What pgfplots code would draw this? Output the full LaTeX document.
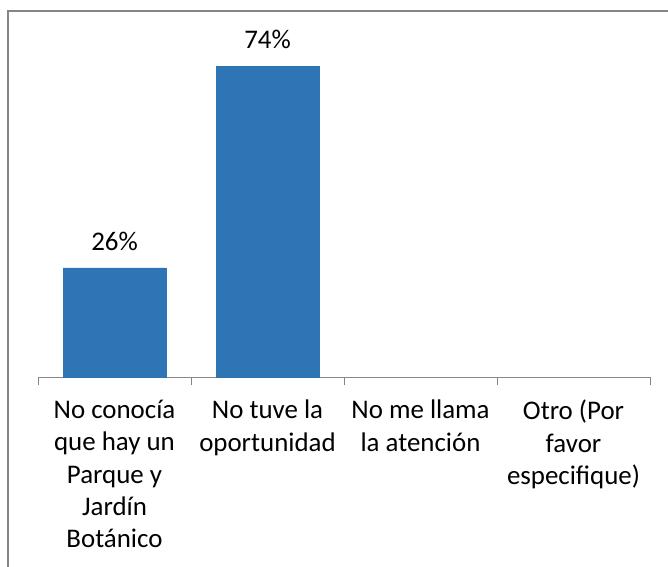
\documentclass[border=0pt]{standalone}
\usepackage{pgfplots}
\pgfplotsset{compat=1.18}
\usepackage{fontspec}
\setmainfont{Carlito}
\definecolor{barblue}{HTML}{2E75B6}
\definecolor{axgray}{HTML}{868686}
\begin{document}
\begin{tikzpicture}[x=1bp,y=1bp]
\useasboundingbox (0,0) rectangle (668,-567);
\draw[axgray, line width=1.2bp] (8,-600) -- (8,-11) -- (700,-11);
\begin{axis}[
  at={(38bp,-377bp)}, anchor=south west,
  scale only axis,
  width=612bp, height=336bp,
  xmin=-0.5, xmax=3.5, ymin=0, ymax=80,
  axis x line*=bottom,
  hide y axis,
  axis line style={axgray, line width=1bp},
  xtick={0,1,2,3},
  major tick length=0pt,
  xticklabels={{No conocía\\que hay un\\Parque y\\Jardín\\Botánico},{No tuve la\\oportunidad},{No me llama\\la atención},{Otro (Por\\favor\\especifique)}},
  x tick label style={align=center, font=\fontsize{27}{32.5}\selectfont, text=black, yshift=-19.5bp},
  extra x ticks={-0.5,0.5,1.5,2.5,3.5},
  extra x tick labels={},
  extra x tick style={major tick length=8bp, tick align=outside, tick style={axgray, line width=1bp}},
  ybar, bar width=103bp,
  clip=false,
  /pgf/number format/assume math mode=true,
  nodes near coords={\pgfmathprintnumber{\pgfplotspointmeta}\%},
  every node near coord/.append style={font=\fontsize{27}{32}\selectfont, text=black, yshift=14bp},
]
\addplot[fill=barblue, draw=barblue] coordinates {(0,26) (1,74)};
\end{axis}
\end{tikzpicture}
\end{document}
